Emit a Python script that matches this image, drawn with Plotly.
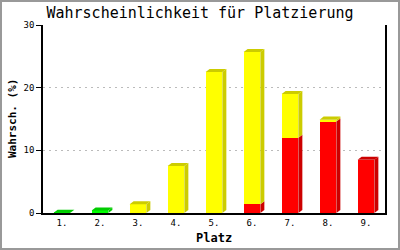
import plotly.graph_objects as go

categories = ["1.", "2.", "3.", "4.", "5.", "6.", "7.", "8.", "9."]
red_vals = [0, 0, 0, 0, 0, 1.4, 12.0, 14.6, 8.5]
yellow_vals = [0, 0, 1.4, 7.5, 22.5, 24.3, 7.0, 0.3, 0]
green_vals = [0.05, 0.4, 0, 0, 0, 0, 0, 0, 0]
y_ticks = [0, 10, 20, 30]

title = "Wahrscheinlichkeit für Platzierung"
x_title = "Platz"
y_title = "Wahrsch. (%)"

FRONT = {"green": "#00ff00", "yellow": "#ffff00", "red": "#ff0000"}
DARK = {"green": "#00cc00", "yellow": "#cccc00", "red": "#cc0000"}
MONO = "DejaVu Sans Mono, Liberation Mono, monospace"

xs = list(range(1, len(categories) + 1))
W = 0.44
DX = 0.105
DY = 0.48

fig = go.Figure()
series = [("red", red_vals), ("yellow", yellow_vals), ("green", green_vals)]
for name, vals in series:
    fig.add_trace(go.Bar(x=xs, y=vals, width=W, marker=dict(color=FRONT[name], line=dict(width=0)),
                         showlegend=False, hoverinfo="skip"))

# 3D faces built from the data
for i, x in enumerate(xs):
    base = 0.0
    top_color = None
    for name, vals in series:
        v = vals[i]
        if v <= 0:
            continue
        x1 = x + W / 2
        t = base + v
        fig.add_trace(go.Scatter(x=[x1, x1 + DX, x1 + DX, x1, x1], y=[base, base + DY, t + DY, t, base],
                                 fill="toself", fillcolor=DARK[name], line=dict(width=0), mode="lines",
                                 showlegend=False, hoverinfo="skip"))
        base = t
        top_color = DARK[name]
    if top_color:
        x0 = x - W / 2
        x1 = x + W / 2
        fig.add_trace(go.Scatter(x=[x0, x1, x1 + DX, x0 + DX, x0], y=[base, base, base + DY, base + DY, base],
                                 fill="toself", fillcolor=top_color, line=dict(width=0), mode="lines",
                                 showlegend=False, hoverinfo="skip"))

L, R, T, B = 43, 15, 25, 37
pw, ph = 400 - L - R, 250 - T - B

fig.update_layout(
    width=400, height=250, margin=dict(l=L, r=R, t=T, b=B),
    barmode="stack", bargap=0,
    paper_bgcolor="white", plot_bgcolor="white",
    title=dict(text=title, x=0.5, xref="container", xanchor="center",
               y=1 - 13 / 250, yref="container", yanchor="middle",
               font=dict(family=MONO, size=15, color="black")),
    xaxis=dict(range=[0.5, 9.5], tickvals=xs, ticktext=categories, showgrid=False,
               showline=True, linecolor="black", linewidth=1.5, ticks="", zeroline=False,
               tickfont=dict(family=MONO, size=9, color="black"), fixedrange=True),
    yaxis=dict(range=[0, 30], tickvals=y_ticks, showgrid=True, gridcolor="#bbbbbb", griddash="2px,4px",
               gridwidth=1, showline=True, linecolor="black", linewidth=1.5, mirror=True,
               ticks="outside", ticklen=5, tickcolor="black", tickwidth=1, zeroline=False,
               tickfont=dict(family=MONO, size=9, color="black")),
    annotations=[
        dict(text=f"<b>{x_title}</b>", x=0.5, y=0, xref="paper", yref="paper", yshift=-25,
             xanchor="center", yanchor="middle", showarrow=False,
             font=dict(family=MONO, size=12, color="black")),
        dict(text=f"<b>{y_title}</b>", x=0, y=0.5, xref="paper", yref="paper", xshift=-31,
             textangle=-90, xanchor="center", yanchor="middle", showarrow=False,
             font=dict(family=MONO, size=11, color="black")),
    ],
    shapes=[dict(type="rect", xref="paper", yref="paper",
                 x0=(1 - L) / pw, x1=(399 - L) / pw, y0=(T + ph - 249) / ph, y1=(ph + T - 1) / ph,
                 line=dict(color="#999999", width=2), fillcolor="rgba(0,0,0,0)", layer="above")],
)
fig.write_html("out.html")
